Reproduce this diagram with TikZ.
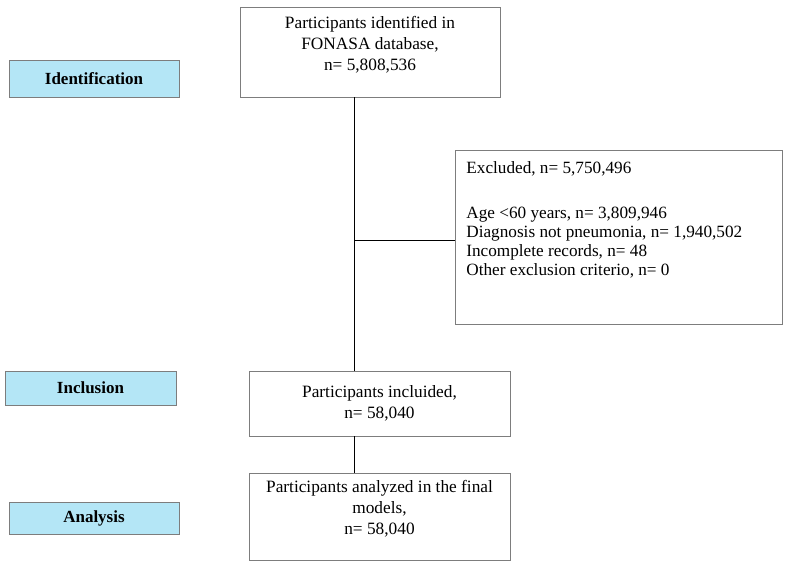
\documentclass[tikz,border=0pt]{standalone}
\usepackage{fontspec}
\setmainfont{Liberation Serif}
\usetikzlibrary{positioning}
\definecolor{stagefill}{RGB}{180,230,246}
\definecolor{boxline}{RGB}{125,125,125}

\begin{document}
\begin{tikzpicture}[x=1pt,y=-1pt,
  stagebox/.style={draw=boxline, fill=stagefill, line width=0.8pt, inner sep=0pt,
    font=\fontsize{17}{20}\selectfont\bfseries},
  flowbox/.style={draw=boxline, line width=0.8pt, inner sep=0pt, align=center,
    font=\fontsize{17.3}{21}\selectfont},
  exclbox/.style={draw=boxline, line width=0.8pt, inner xsep=11pt, inner ysep=11pt,
    font=\fontsize{17.2}{19}\selectfont},
  link/.style={black, line width=1pt}]
\useasboundingbox (0,0) rectangle (790,567);
% stage labels
\node[stagebox, minimum width=170, minimum height=37] (identstage) at (94,78.5) {Identification};
\node[stagebox, minimum width=171, minimum height=34] (inclstage) at (90.5,388) {Inclusion};
\node[stagebox, minimum width=170, minimum height=32] (analstage) at (94,518) {Analysis};
% flow boxes
\node[flowbox, minimum width=260, minimum height=90] (identified) at (370,52)
  {Participants identified in\\FONASA database,\\n= 5,808,536\\[-4pt]};
\node[flowbox, minimum width=261, minimum height=65] (included) at (379.5,403.5)
  {Participants incluided,\\n= 58,040};
\node[flowbox, minimum width=261, minimum height=87] (analyzed) at (379.5,516.5)
  {Participants analyzed in the final\\models,\\n= 58,040\\[-2pt]};
\node[exclbox, anchor=north west] (excluded) at (455,150)
  {\parbox[c][152pt][t]{305pt}{Excluded, n= 5,750,496\\[26pt]
   Age <60 years, n= 3,809,946\\
   Diagnosis not pneumonia, n= 1,940,502\\
   Incomplete records, n= 48\\
   Other exclusion criterio, n= 0}};
% connectors
\coordinate (branch) at (354,240);
\draw[link] (identified.south -| branch) -- (included.north -| branch);
\draw[link] (branch) -- (excluded.west |- branch);
\draw[link] (included.south -| branch) -- (analyzed.north -| branch);
\end{tikzpicture}
\end{document}
